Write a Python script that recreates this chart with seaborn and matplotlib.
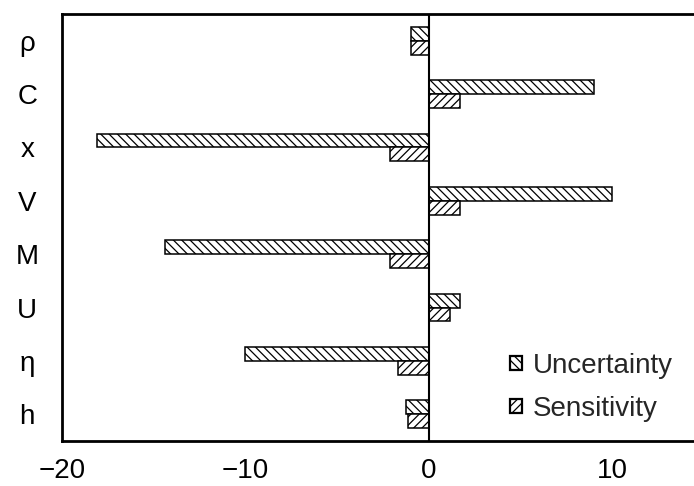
import pandas as pd
import matplotlib.pyplot as plt
import seaborn as sns
from matplotlib.patches import Patch

# data
params = ['ρ', 'C', 'x', 'V', 'M', 'U', 'η', 'h']
uncertainty = [-1.0, 9.0, -18.1, 10.0, -14.4, 1.7, -10.05, -1.25]
sensitivity = [-1.0, 1.7, -2.1, 1.7, -2.1, 1.15, -1.7, -1.15]
series = ['Uncertainty', 'Sensitivity']
hatches = ['\\\\\\\\', '////']

df = pd.DataFrame({
    'param': params * 2,
    'value': uncertainty + sensitivity,
    'series': ['Uncertainty'] * len(params) + ['Sensitivity'] * len(params),
})

sns.set_style('white')
plt.rcParams['font.family'] = ['Liberation Sans', 'DejaVu Sans']
plt.rcParams['hatch.linewidth'] = 0.9
plt.rcParams['axes.unicode_minus'] = True

fig = plt.figure(figsize=(6.94, 4.86), dpi=100)
ax = fig.add_axes([62 / 694, 45 / 486, (704 - 62) / 694, 427 / 486])

sns.barplot(data=df, y='param', x='value', hue='series', orient='h',
            order=params, hue_order=series, width=0.52, gap=0,
            palette=['white', 'white'], edgecolor='black', linewidth=1.1,
            legend=False, ax=ax)

for cont, h in zip(ax.containers, hatches):
    for bar in cont:
        bar.set_hatch(h)
        if hasattr(bar, 'set_hatchcolor'):
            bar.set_hatchcolor('#555555')

ax.axvline(0, color='black', linewidth=1.5, zorder=5)
ax.set_xlim(-20, 15)
ax.set_xticks([-20, -10, 0, 10])
ax.set_xlabel('')
ax.set_ylabel('')

ax.tick_params(axis='both', length=0, labelsize=20, colors='black')
ax.tick_params(axis='x', pad=12)
ax.tick_params(axis='y', pad=25)
for lab in ax.get_yticklabels():
    lab.set_horizontalalignment('center')

for side in ['left', 'top', 'bottom']:
    ax.spines[side].set_visible(True)
    ax.spines[side].set_color('black')
    ax.spines[side].set_linewidth(2.0)
ax.spines['right'].set_visible(False)

handles = [Patch(facecolor='white', edgecolor='black', hatch=h, linewidth=1.6) for h in hatches]
ax.legend(handles=handles, labels=series, loc='lower left',
          bbox_to_anchor=(510 / 694, 1 - 422 / 486), bbox_transform=fig.transFigure,
          frameon=False, fontsize=20, handlelength=0.42, handleheight=0.42,
          handletextpad=0.4, labelspacing=0.62, borderpad=0, borderaxespad=0)

fig.savefig('out.png', dpi=100)
